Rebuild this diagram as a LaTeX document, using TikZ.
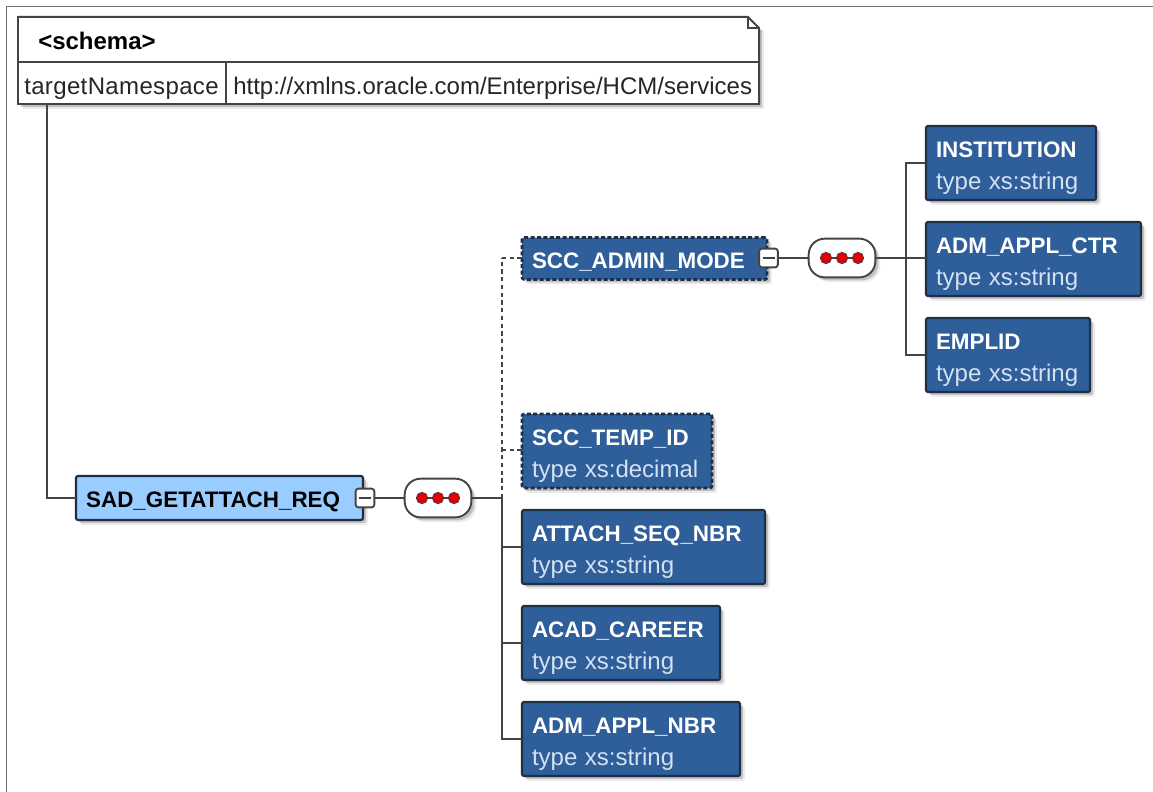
\documentclass[tikz,border=0pt]{standalone}
\usepackage{fontspec}
\setmainfont{Liberation Sans}
\usetikzlibrary{shadows,calc}
\definecolor{boxblue}{HTML}{2F5F9B}
\definecolor{rootblue}{HTML}{99CCFF}
\definecolor{typetxt}{HTML}{D5E1F0}
\definecolor{edge}{HTML}{1E2E44}
\definecolor{linegray}{HTML}{444444}
\newcommand{\titlefont}{\fontsize{16.8pt}{24pt}\bfseries\selectfont}
\newcommand{\typefont}{\fontsize{18pt}{24pt}\mdseries\selectfont}
\tikzset{
  x=0.75pt,y=-0.75pt,
  softshadow/.style={drop shadow={shadow xshift=3.6pt,shadow yshift=-3.6pt,fill=black,opacity=.08},drop shadow={shadow xshift=2.2pt,shadow yshift=-2.2pt,fill=black,opacity=.18}},
  eltbox/.style={rectangle,rounded corners=1.5pt,fill=boxblue,draw=edge,line width=1.6pt,softshadow,inner sep=0pt,outer sep=0pt,align=left,font=\fontsize{16.8pt}{24pt}\selectfont,text=white},
  optbox/.style={eltbox,line width=1.9pt,dash pattern=on 3pt off 1.8pt},
  rootbox/.style={rectangle,rounded corners=1.5pt,fill=rootblue,draw=edge,line width=1.6pt,softshadow,inner sep=0pt,outer sep=0pt,align=left,font=\titlefont,text=black},
  btn/.style={rectangle,rounded corners=2pt,fill=white,draw=linegray,line width=1.4pt,minimum width=14pt,minimum height=14pt,inner sep=0pt,outer sep=0pt},
  seqbox/.style={rectangle,rounded corners=12pt,fill=white,draw=linegray,line width=1.4pt,softshadow,minimum width=50pt,minimum height=29pt,inner sep=0pt,outer sep=0pt},
  dot/.style={circle,fill=red!90!black,draw=black!75,line width=.6pt,minimum size=8.5pt,inner sep=0pt},
  conn/.style={draw=linegray,line width=1.5pt},
  dconn/.style={conn,dash pattern=on 3.2pt off 2.6pt},
  cellbox/.style={font=\fontsize{18pt}{20pt}\selectfont,text=black!85,inner sep=0pt,anchor=base west},
}
\newcommand{\elt}[8][eltbox]{% style,name,x1,y1,x2,y2,title,type
  \node[#1,minimum width={(#5-#3)*0.75pt},minimum height={(#6-#4)*0.75pt},text width={(#5-#3-20)*0.75pt}] (#2) at ({(#3+#5)/2},{(#4+#6)/2}) {\rule{0pt}{19.5pt}\textbf{#7}\\[0pt]{\typefont\textcolor{typetxt}{type xs:#8}}};}
\newcommand{\seqdots}[2]{% name, centre
  \node[seqbox] (#1) at (#2) {};
  \draw[conn,line width=1pt] ([xshift=-12pt]#1.center) -- ([xshift=12pt]#1.center);
  \node[dot] (#1a) at ([xshift=-12pt]#1.center) {};
  \node[dot] (#1b) at (#1.center) {};
  \node[dot] (#1c) at ([xshift=12pt]#1.center) {};}
\newcommand{\minusbtn}[2]{% name, centre
  \node[btn] (#1) at (#2) {};
  \draw[black!75,line width=1.4pt] ([xshift=-4.5pt]#1.center) -- ([xshift=4.5pt]#1.center);}
\begin{document}
\begin{tikzpicture}
\useasboundingbox[fill=white] (0,0) rectangle (1153,792);
\draw[black!55,line width=1pt] (1153,6.5) -- (6.5,6.5) -- (6.5,792);

% schema box
\path[fill=black,opacity=.08] (23,22) -- (764,22) -- (764,109) -- (23,109) -- cycle;
\path[fill=black,opacity=.18] (21,20) -- (762,20) -- (762,107) -- (21,107) -- cycle;
\node[draw=linegray,fill=white,line width=1.5pt,minimum width=555.75pt,minimum height=65.25pt,inner sep=0pt,outer sep=0pt] (schema) at (388.5,60.5) {};
\fill[white] (747,15) -- (765,15) -- (765,30) -- (759,30) -- cycle;
\draw[linegray,line width=1.5pt] (18,17) -- (748,17) -- (759,28) -- (759,104);
\draw[linegray,line width=1pt] (748,17) -- (748,28) -- (759,28);
\node[font=\fontsize{18pt}{20pt}\bfseries\selectfont,anchor=base west,inner sep=0pt] (schematitle) at (38,49.5) {<schema>};
\draw[linegray,line width=1.5pt] (18,62) -- (759,62);
\draw[linegray,line width=1.5pt] (226,62) -- (226,104);
\node[cellbox] (tnlabel) at (24,94) {\addfontfeature{LetterSpace=1.5}targetNamespace};
\node[cellbox] (tnvalue) at (233,94) {http://xmlns.oracle.com/Enterprise/HCM/services};
\coordinate (tnfoot) at (47,104);

% root
\node[rootbox,minimum width=215.25pt,minimum height=33pt,text width=200pt] (root) at (219.5,498) {\rule{0pt}{18pt}SAD\_GETATTACH\_REQ};
\draw[conn] (tnfoot) |- (root.west);

% coordinates of the trunks
\coordinate (trunkA) at (502,498);
\coordinate (trunkAtop) at (502,258);
\coordinate (trunkTemp) at (502,450);
\coordinate (trunkB) at (906,258);

% connectors, lower level
\draw[dconn] (trunkA) -- (trunkAtop);

% children level 1
\node[optbox,minimum width=183.75pt,minimum height=31.5pt,text width=168.75pt,font=\titlefont] (admin) at (644.5,258.5) {\rule{0pt}{16.5pt}SCC\_ADMIN\_MODE};
\elt[optbox]{temp}{522}{414}{712}{488}{SCC\_TEMP\_ID}{decimal}
\elt{attach}{522}{510}{765}{584}{ATTACH\_SEQ\_NBR}{string}
\elt{career}{522}{606}{720}{680}{ACAD\_CAREER}{string}
\elt{nbr}{522}{702}{740}{776}{ADM\_APPL\_NBR}{string}

\draw[dconn] (trunkAtop) -- (trunkAtop -| admin.west);
\draw[dconn] (trunkTemp) -- (trunkTemp -| temp.west);
\draw[conn] (trunkA) |- (attach.west);
\draw[conn] (trunkA) |- (career.west);
\draw[conn] (trunkA) |- (nbr.west);

% sequence A
\minusbtn{rootbtn}{365,498}
\draw[conn] (rootbtn.east) -- ++(30,0) coordinate (seqAin);
\seqdots{seqA}{438,498}
\draw[conn] (seqA.east) -- (trunkA);

% children level 2
\elt{inst}{926}{126}{1096}{200}{INSTITUTION}{string}
\elt{ctr}{926}{222}{1141}{296}{ADM\_APPL\_CTR}{string}
\elt{emplid}{926}{318}{1090}{392}{EMPLID}{string}

\draw[conn] (trunkB) |- (inst.west);
\draw[conn] (trunkB) -- (trunkB -| ctr.west);
\draw[conn] (trunkB) |- (emplid.west);

% sequence B
\minusbtn{adminbtn}{768.5,258}
\draw[conn] (adminbtn.east) -- ++(32,0);
\seqdots{seqB}{842,258}
\draw[conn] (seqB.east) -- (trunkB);
\end{tikzpicture}
\end{document}
